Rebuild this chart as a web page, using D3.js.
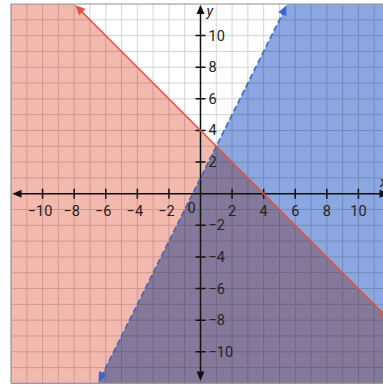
<!DOCTYPE html>
<html><head><meta charset="utf-8">
<script src="https://cdn.jsdelivr.net/npm/d3@7"></script>
<style>html,body{margin:0;padding:0;background:#fff;overflow:hidden}svg{display:block}</style>
</head><body>
<script>
// Data
const lineNames = ["red", "blue"];
const slopes = [-1, 2];
const intercepts = [4, 1];
const shadeBelow = [true, true];
const dashed = [false, true];
const lineColors = ["#e2543f", "#3a66d2"];
const fillColors = ["#f4b9ae", "#8aa7e2"];
const xTicks = [-10, -8, -6, -4, -2, 2, 4, 6, 8, 10];
const yTicks = [-10, -8, -6, -4, -2, 2, 4, 6, 8, 10];
const domainMin = -12, domainMax = 12;

const W = 383, H = 386;
const svg = d3.select("body").append("svg").attr("width", W).attr("height", H);
const x = d3.scaleLinear().domain([domainMin, domainMax]).range([11, 390]);
const y = d3.scaleLinear().domain([domainMin, domainMax]).range([383.4, 4]);

svg.append("defs").append("clipPath").attr("id", "plot")
  .append("rect").attr("x", x(domainMin)).attr("y", y(domainMax))
  .attr("width", x(domainMax) - x(domainMin)).attr("height", y(domainMin) - y(domainMax));

const g = svg.append("g").attr("clip-path", "url(#plot)");
g.append("rect").attr("x", x(domainMin)).attr("y", y(domainMax))
  .attr("width", x(domainMax) - x(domainMin)).attr("height", y(domainMin) - y(domainMax))
  .attr("fill", "#fff");

// grid
const units = d3.range(domainMin, domainMax + 1);
g.selectAll(".gx").data(units).join("line")
  .attr("x1", d => x(d)).attr("x2", d => x(d))
  .attr("y1", y(domainMin)).attr("y2", y(domainMax))
  .attr("stroke", "#d4d4d4").attr("stroke-width", 1);
g.selectAll(".gy").data(units).join("line")
  .attr("y1", d => y(d)).attr("y2", d => y(d))
  .attr("x1", x(domainMin)).attr("x2", x(domainMax))
  .attr("stroke", "#d4d4d4").attr("stroke-width", 1);

// half-plane polygons via clipping
function halfPlane(m, b, below) {
  const box = [[domainMin, domainMin], [domainMax, domainMin], [domainMax, domainMax], [domainMin, domainMax]];
  const f = p => (below ? (m * p[0] + b - p[1]) : (p[1] - m * p[0] - b));
  const out = [];
  for (let i = 0; i < box.length; i++) {
    const a = box[i], c = box[(i + 1) % box.length];
    const fa = f(a), fc = f(c);
    if (fa >= 0) out.push(a);
    if ((fa >= 0) !== (fc >= 0)) {
      const t = fa / (fa - fc);
      out.push([a[0] + t * (c[0] - a[0]), a[1] + t * (c[1] - a[1])]);
    }
  }
  return out;
}
lineNames.forEach((n, i) => {
  const pts = halfPlane(slopes[i], intercepts[i], shadeBelow[i]);
  g.append("polygon")
    .attr("points", pts.map(p => [x(p[0]), y(p[1])].join(",")).join(" "))
    .attr("fill", fillColors[i])
    .style("mix-blend-mode", "multiply");
});

function arrow(sel, tip, ang, color, len = 10, wid = 4) {
  const [tx, ty] = tip;
  const bx = tx - len * Math.cos(ang), by = ty - len * Math.sin(ang);
  const px = -Math.sin(ang) * wid, py = Math.cos(ang) * wid;
  sel.append("polygon")
    .attr("points", `${tx},${ty} ${bx + px},${by + py} ${bx - px},${by - py}`)
    .attr("fill", color);
}

// axes
const ax = svg.append("g").attr("clip-path", "url(#plot)");
ax.append("line").attr("x1", x(domainMin) + 3).attr("x2", x(domainMax) - 3)
  .attr("y1", y(0)).attr("y2", y(0)).attr("stroke", "#111").attr("stroke-width", 1.5);
ax.append("line").attr("y1", y(domainMax) + 2).attr("y2", y(domainMin) - 4)
  .attr("x1", x(0)).attr("x2", x(0)).attr("stroke", "#111").attr("stroke-width", 1.5);
arrow(ax, [x(domainMin) + 1.5, y(0)], Math.PI, "#111", 9, 4);
arrow(ax, [x(domainMax) - 1.5, y(0)], 0, "#111", 9, 4);
arrow(ax, [x(0), y(domainMax) + 1]
  , -Math.PI / 2, "#111", 9, 4);
arrow(ax, [x(0), y(domainMin) - 3], Math.PI / 2, "#111", 9, 4);

ax.selectAll(".tx").data(xTicks).join("line")
  .attr("x1", d => x(d)).attr("x2", d => x(d))
  .attr("y1", y(0) - 5).attr("y2", y(0) + 5)
  .attr("stroke", "#111").attr("stroke-width", 1.5);
ax.selectAll(".ty").data(yTicks).join("line")
  .attr("y1", d => y(d)).attr("y2", d => y(d))
  .attr("x1", x(0) - 5).attr("x2", x(0) + 5)
  .attr("stroke", "#111").attr("stroke-width", 1.5);

const fmt = d => (d < 0 ? "\u2212" + Math.abs(d) : String(d));
const font = "Roboto, 'Open Sans', sans-serif";
ax.selectAll(".lx").data(xTicks).join("text")
  .attr("x", d => x(d) - (d < 0 ? 2.5 : 0)).attr("y", y(0) + 22)
  .attr("text-anchor", "middle").attr("font-family", font).attr("font-size", 14.5)
  .attr("fill", "#222").text(fmt);
ax.selectAll(".ly").data(yTicks).join("text")
  .attr("x", x(0) + 8).attr("y", d => y(d) + 5)
  .attr("text-anchor", "start").attr("font-family", font).attr("font-size", 14.5)
  .attr("fill", "#222").text(fmt);
ax.append("text").attr("x", x(0) - 9).attr("y", y(0) + 19)
  .attr("text-anchor", "middle").attr("font-family", font).attr("font-size", 14.5)
  .attr("fill", "#222").text("0");
ax.append("text").attr("x", x(0) + 6).attr("y", y(domainMax) + 12)
  .attr("font-family", font).attr("font-size", 14.5).attr("font-style", "italic")
  .attr("fill", "#222").text("y");
ax.append("text").attr("x", x(domainMax) - 10).attr("y", y(0) - 7)
  .attr("font-family", font).attr("font-size", 14.5).attr("font-style", "italic")
  .attr("fill", "#222").text("x");

// boundary lines
const lg = svg.append("g").attr("clip-path", "url(#plot)");
lineNames.forEach((n, i) => {
  const m = slopes[i], b = intercepts[i];
  // endpoints where the line meets the box
  const cand = [];
  [domainMin, domainMax].forEach(xv => { const yv = m * xv + b; if (yv >= domainMin && yv <= domainMax) cand.push([xv, yv]); });
  [domainMin, domainMax].forEach(yv => { const xv = (yv - b) / m; if (xv >= domainMin && xv <= domainMax) cand.push([xv, yv]); });
  cand.sort((a, c) => a[0] - c[0]);
  const p0 = [x(cand[0][0]), y(cand[0][1])], p1 = [x(cand[cand.length - 1][0]), y(cand[cand.length - 1][1])];
  const ang = Math.atan2(p1[1] - p0[1], p1[0] - p0[0]);
  const sh = 7;
  lg.append("line")
    .attr("x1", p0[0] + sh * Math.cos(ang)).attr("y1", p0[1] + sh * Math.sin(ang))
    .attr("x2", p1[0] - sh * Math.cos(ang)).attr("y2", p1[1] - sh * Math.sin(ang))
    .attr("stroke", lineColors[i]).attr("stroke-width", 1.6)
    .attr("stroke-dasharray", dashed[i] ? "6,3" : null);
  arrow(lg, [p0[0] + 1.5 * Math.cos(ang), p0[1] + 1.5 * Math.sin(ang)], ang + Math.PI, lineColors[i], 10, 4.5);
  arrow(lg, [p1[0] - 1.5 * Math.cos(ang), p1[1] - 1.5 * Math.sin(ang)], ang, lineColors[i], 10, 4.5);
});

// border
svg.append("path")
  .attr("d", `M${x(domainMin)},${y(domainMin)}V${y(domainMax)}H${x(domainMax)}M${x(domainMin)},${y(domainMin)}H${x(domainMax)}`)
  .attr("fill", "none").attr("stroke", "#999").attr("stroke-width", 1.2);
</script>
</body></html>
